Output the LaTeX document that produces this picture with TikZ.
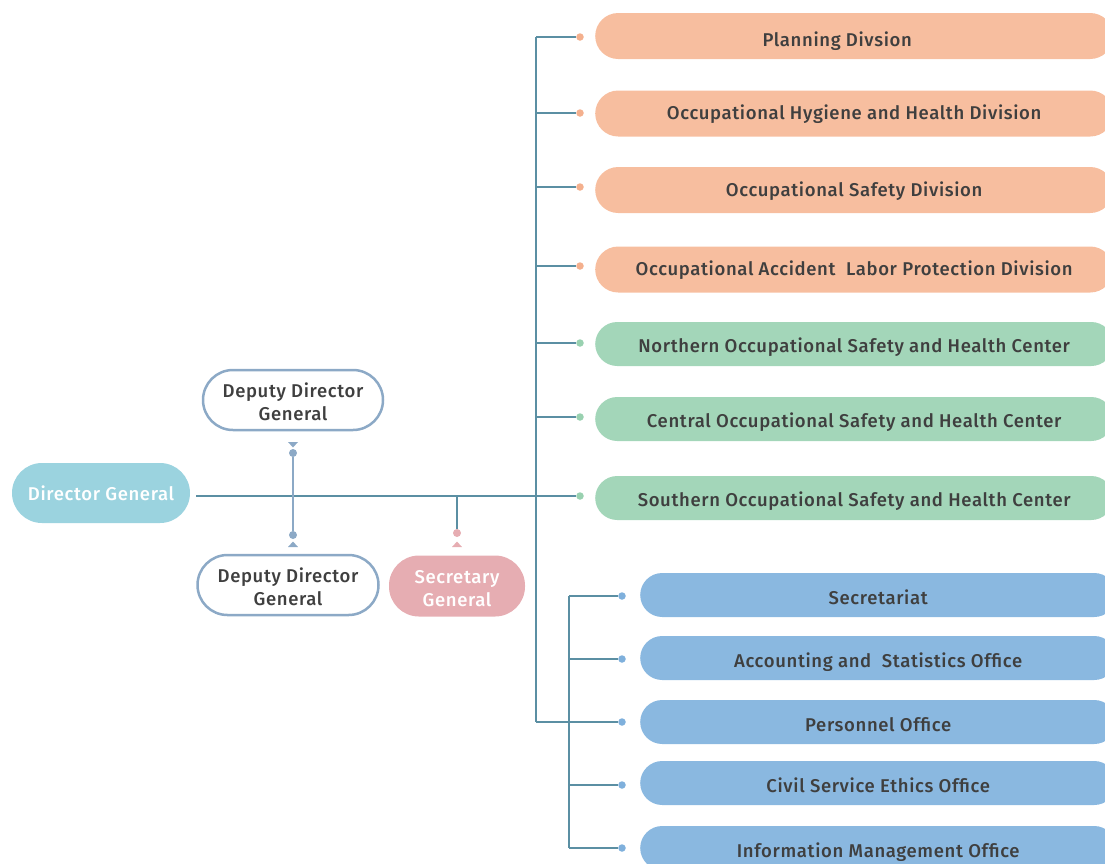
\documentclass[tikz,border=0pt]{standalone}
\usepackage{fontspec}
\setmainfont{Fira Sans Medium}[LetterSpace=3.5]
\definecolor{lnc}{HTML}{5B8FA3}
\definecolor{orf}{HTML}{F7BE9F}
\definecolor{ord}{HTML}{F4B08E}
\definecolor{grf}{HTML}{A3D6B9}
\definecolor{grd}{HTML}{99D1B0}
\definecolor{blf}{HTML}{8AB8E0}
\definecolor{bld}{HTML}{7FB0DC}
\definecolor{dgf}{HTML}{9BD3DF}
\definecolor{pkf}{HTML}{E6ADB2}
\definecolor{dpb}{HTML}{8CA9C6}
\definecolor{txc}{HTML}{3F3F3F}
\newcommand{\lift}{\rule{0pt}{18pt}}
\begin{document}
\begin{tikzpicture}[x=1pt,y=-1pt,
  lbl/.style={font=\fontsize{18.5}{23}\selectfont, text=txc},
  unitbox/.style={lbl, rounded corners=#1, anchor=west, inner sep=0, text depth=0},
  orbox/.style={unitbox=23, minimum width=518, minimum height=46, fill=orf, text height=12},
  grbox/.style={unitbox=22, minimum width=518, minimum height=44, fill=grf, text height=16},
  blbox/.style={unitbox=22, minimum width=476, minimum height=44, fill=blf, text height=18},
  dotc/.style={circle, inner sep=0, minimum size=7.5, fill=#1},
  conn/.style={draw=lnc, line width=1.4},
  depbox/.style={lbl, draw=dpb, line width=2.5, fill=white, rounded corners=30, minimum width=178, minimum height=60, align=center},
]
\useasboundingbox (0,0) rectangle (1105,863);
\begin{scope}
\clip (0,0) rectangle (1105,863);
% right-hand units
\node[orbox] (p1) at (595,36) {\hspace*{-34pt}\raisebox{-4pt}{Planning Divsion}};
\node[orbox] (p2) at (595,113.5) {Occupational Hygiene and Health Division};
\node[orbox] (p3) at (595,190) {Occupational Safety Division};
\node[orbox] (p4) at (595,269.5) {Occupational Accident\ \ Labor Protection Division};
\node[grbox] (g1) at (595,344) {Northern Occupational Safety and Health Center};
\node[grbox] (g2) at (595,419) {Central Occupational Safety and Health Center};
\node[grbox] (g3) at (595,498) {Southern Occupational Safety and Health Center};
\node[blbox] (b1) at (640,595) {Secretariat};
\node[blbox] (b2) at (640,658) {Accounting and\ \ Statistics Office};
\node[blbox] (b3) at (640,722) {Personnel Office};
\node[blbox] (b4) at (640,783) {Civil Service Ethics Office};
\node[blbox] (b5) at (640,848) {Information Management Office};
\end{scope}
% left-hand nodes
\node[lbl, fill=dgf, text=white, rounded corners=30, minimum width=178, minimum height=60] (dg) at (101,493) {Director General};
\node[depbox, minimum width=180] (dd1) at (293,400) {\lift Deputy Director\\General};
\node[depbox, minimum width=181] (dd2) at (288,585) {\lift Deputy Director\\General};
\node[lbl, fill=pkf, text=white, rounded corners=30, minimum width=136, minimum height=61, align=center] (sg) at (457,586) {\lift Secretary\\General};
% dots
\node[dotc=ord] (d1) at (580,37) {};
\node[dotc=ord] (d2) at (580,113) {};
\node[dotc=ord] (d3) at (580,187) {};
\node[dotc=ord] (d4) at (580,266) {};
\node[dotc=grd] (d5) at (580,343) {};
\node[dotc=grd] (d6) at (580,417) {};
\node[dotc=grd] (d7) at (580,496) {};
\node[dotc=bld] (e1) at (622,596) {};
\node[dotc=bld] (e2) at (622,659) {};
\node[dotc=bld] (e3) at (622,722) {};
\node[dotc=bld] (e4) at (622,785) {};
\node[dotc=bld] (e5) at (622,848) {};
\node[dotc=dpb, minimum size=8] (u1) at (293,453) {};
\node[dotc=dpb, minimum size=8] (u2) at (293,535) {};
\node[dotc=pkf, minimum size=8] (s1) at (457,533) {};
% trunk coordinates
\coordinate (ta) at (536,37);
\coordinate (tb) at (536,722);
\coordinate (ua) at (569,596);
\coordinate (ub) at (569,848);
\coordinate (dgr) at (196,496);
\coordinate (sj) at (457,496);
% connectors
\draw[conn] (ta) -- (tb);
\draw[conn] (ua) -- (ub);
\draw[conn] (dgr) -- (d7);
\foreach \d in {d1,d2,d3,d4,d5,d6} \draw[conn] (ta |- \d) -- (\d);
\draw[conn] (tb) -- (e3);
\foreach \d in {e1,e2,e4,e5} \draw[conn] (ua |- \d) -- (\d);
\draw[draw=dpb, line width=1.6] (u1) -- (u2);
\draw[draw=lnc, line width=1.4] (sj) -- (s1);
% small triangles
\fill[dpb] (288,442) -- (298,442) -- (293,447.5) -- cycle;
\fill[dpb] (288,547) -- (298,547) -- (293,541.5) -- cycle;
\fill[pkf] (452,547) -- (462,547) -- (457,541.5) -- cycle;
\end{tikzpicture}
\end{document}
